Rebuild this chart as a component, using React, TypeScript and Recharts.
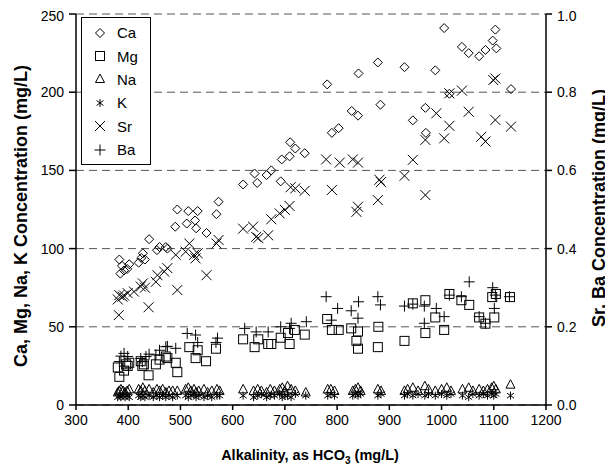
import React from 'react';
import { CartesianGrid, Legend, Scatter, ScatterChart, XAxis, YAxis } from 'recharts';

// alkalinity ticks and concentration ticks
const alkTicks = [300, 400, 500, 600, 700, 800, 900, 1000, 1100, 1200];
const leftTicks = [0, 50, 100, 150, 200, 250];
const rightTicks = [0, 0.2, 0.4, 0.6, 0.8, 1.0];

// [alkalinity, mg/L]
const caData: [number, number][] = [
    [383, 93], [388, 89], [385, 84], [392, 86], [398, 87], [402, 90],
    [420, 91], [425, 94], [428, 97], [432, 93],
    [440, 106], [455, 99], [460, 101], [472, 101], [475, 100],
    [490, 114], [494, 125], [512, 116], [515, 124], [528, 118], [530, 113], [533, 124], [550, 110], [569, 122], [573, 130],
    [620, 141], [642, 148], [647, 142], [665, 147], [674, 150], [692, 143], [694, 157], [709, 159], [710, 168], [720, 164], [738, 161],
    [781, 205], [790, 174], [803, 177], [828, 188], [840, 185], [841, 212], [878, 219], [883, 192],
    [929, 216], [945, 182], [969, 190], [970, 174], [988, 214], [1005, 241], [1015, 199], [1039, 229], [1052, 225],
    [1072, 223], [1084, 227], [1098, 233], [1103, 240], [1105, 228], [1133, 202],
];

const mgData: [number, number][] = [
    [380, 24], [383, 18], [392, 22], [396, 26], [399, 25], [402, 27], [424, 28], [427, 25], [430, 26], [439, 19],
    [453, 26], [460, 29], [472, 31], [475, 30], [491, 27], [494, 21], [517, 37], [529, 30], [533, 35], [549, 28], [568, 36],
    [620, 42], [642, 37], [649, 42], [668, 39], [674, 39], [692, 43], [706, 46], [709, 39], [719, 48], [738, 45],
    [781, 55], [790, 48], [803, 48], [827, 49], [837, 41], [840, 47], [840, 36], [879, 50], [878, 37],
    [929, 41], [945, 65], [969, 67], [969, 46], [988, 56], [1005, 48], [1015, 71], [1038, 67], [1053, 64],
    [1072, 56], [1084, 52], [1097, 69], [1101, 56], [1104, 71], [1131, 69],
];

// Na and K share the sample alkalinities
const minorAlk = [
    380, 383, 386, 390, 394, 398, 402,
    420, 424, 428, 432, 440, 448, 455, 460, 466, 472, 478, 485, 494,
    510, 515, 520, 526, 530, 535, 545, 552, 560, 570, 575,
    620, 640, 648, 655, 665, 672, 680, 690, 695, 700, 705, 712, 720, 740,
    782, 788, 795, 830, 835, 840, 845, 878, 884,
    929, 935, 945, 955, 968, 975, 988, 1000, 1010, 1018, 1040, 1052, 1060, 1072, 1080, 1088, 1096, 1100, 1104, 1132,
];
const naVals = [
    8, 9, 10, 9, 8, 9, 10,
    10, 9, 11, 9, 10, 8, 10, 9, 10, 8, 9, 9, 9,
    10, 11, 9, 10, 8, 9, 10, 8, 9, 10, 9,
    10, 9, 10, 9, 8, 10, 9, 10, 11, 9, 12, 10, 9, 8,
    10, 10, 9, 9, 10, 11, 9, 10, 9,
    9, 10, 11, 9, 12, 10, 9, 10, 11, 9, 10, 11, 9, 10, 9, 10, 11, 12, 10, 13,
];
const kVals = [
    5, 6, 5, 6, 5, 6, 5,
    6, 5, 6, 5, 6, 5, 6, 5, 6, 5, 6, 5, 6,
    6, 5, 6, 7, 5, 6, 5, 6, 5, 6, 6,
    6, 5, 6, 7, 5, 6, 6, 7, 5, 6, 6, 5, 7, 6,
    6, 7, 6, 6, 7, 6, 7, 6, 7,
    6, 7, 6, 7, 6, 7, 6, 7, 6, 7, 6, 5, 7, 6, 7, 6, 7, 6, 7, 6,
];

// Sr and Ba on the right axis
const srData: [number, number][] = [
    [380, 0.27], [382, 0.23], [383, 0.281], [389, 0.277], [392, 0.28], [399, 0.286], [411, 0.29], [424, 0.303],
    [428, 0.311], [432, 0.3], [439, 0.25], [453, 0.315], [456, 0.332], [469, 0.341], [475, 0.35], [491, 0.384],
    [494, 0.294], [510, 0.392], [517, 0.413], [526, 0.384], [529, 0.375], [533, 0.388], [550, 0.332], [569, 0.413], [573, 0.422],
    [620, 0.451], [639, 0.456], [645, 0.43], [649, 0.427], [668, 0.434], [674, 0.475], [690, 0.49], [700, 0.499],
    [709, 0.509], [711, 0.557], [720, 0.554], [738, 0.548],
    [779, 0.628], [790, 0.55], [805, 0.62], [830, 0.628], [837, 0.494], [840, 0.507], [840, 0.62], [878, 0.524], [881, 0.576], [884, 0.57],
    [929, 0.586], [945, 0.627], [969, 0.537], [969, 0.678], [990, 0.746], [1005, 0.682], [1015, 0.714], [1015, 0.797],
    [1039, 0.804], [1052, 0.75], [1076, 0.686], [1084, 0.674], [1099, 0.831], [1103, 0.835], [1103, 0.729], [1133, 0.712],
];

const baData: [number, number][] = [
    [383, 0.111], [386, 0.125], [392, 0.132], [399, 0.124], [424, 0.119], [427, 0.111], [434, 0.124], [440, 0.13],
    [453, 0.128], [460, 0.14], [472, 0.149], [475, 0.15], [491, 0.145], [513, 0.183], [529, 0.179], [533, 0.16], [568, 0.16], [571, 0.171],
    [623, 0.196], [645, 0.187], [668, 0.187], [692, 0.2], [709, 0.196], [712, 0.209], [741, 0.213],
    [779, 0.277], [789, 0.217], [801, 0.247], [827, 0.241], [840, 0.222], [841, 0.264], [878, 0.277], [883, 0.256],
    [929, 0.253], [945, 0.258], [967, 0.253], [967, 0.209], [990, 0.247], [1005, 0.226], [1015, 0.281], [1038, 0.277],
    [1053, 0.315], [1072, 0.226], [1084, 0.209], [1098, 0.3], [1101, 0.247], [1103, 0.281], [1130, 0.277],
];

const toPoints = (rows: [number, number][]) => rows.map(([x, y]) => ({ x, y }));
const naData = minorAlk.map((x, i) => ({ x, y: naVals[i] }));
const kData = minorAlk.map((x, i) => ({ x, y: kVals[i] }));

const FONT = '"Liberation Sans", Arial, sans-serif';

function Marker({ cx, cy, kind }: { cx: number; cy: number; kind: string }) {
    const s = { stroke: '#000', strokeWidth: 1, fill: 'none' };
    if (kind === 'diamond') {
        return <path d={`M${cx},${cy - 4.5}L${cx + 4.5},${cy}L${cx},${cy + 4.5}L${cx - 4.5},${cy}Z`} {...s} />;
    }
    if (kind === 'square') {
        return <rect x={cx - 4.5} y={cy - 4.5} width={9} height={9} {...s} />;
    }
    if (kind === 'triangle') {
        return <path d={`M${cx},${cy - 5}L${cx + 4.5},${cy + 3.5}L${cx - 4.5},${cy + 3.5}Z`} {...s} />;
    }
    if (kind === 'star') {
        return <path d={`M${cx},${cy - 4}V${cy + 4}M${cx - 3.5},${cy - 2.5}L${cx + 3.5},${cy + 2.5}M${cx - 3.5},${cy + 2.5}L${cx + 3.5},${cy - 2.5}`} {...s} />;
    }
    if (kind === 'x') {
        return <path d={`M${cx - 5},${cy - 5}L${cx + 5},${cy + 5}M${cx - 5},${cy + 5}L${cx + 5},${cy - 5}`} {...s} />;
    }
    return <path d={`M${cx - 5.5},${cy}H${cx + 5.5}M${cx},${cy - 5.5}V${cy + 5.5}`} {...s} />;
}

const shapeOf = (kind: string) => (p: any) =>
    p.cx == null || p.cy == null ? <g /> : <Marker cx={p.cx} cy={p.cy} kind={kind} />;

const legendItems = [
    { name: 'Ca', kind: 'diamond' },
    { name: 'Mg', kind: 'square' },
    { name: 'Na', kind: 'triangle' },
    { name: 'K', kind: 'star' },
    { name: 'Sr', kind: 'x' },
    { name: 'Ba', kind: 'plus' },
];

function LegendBox() {
    return (
        <div style={{ border: '1px solid #000', background: '#fff', width: 70, paddingTop: 3, paddingBottom: 3, boxSizing: 'border-box', fontFamily: FONT }}>
            {legendItems.map((it) => (
                <div key={it.name} style={{ display: 'flex', alignItems: 'center', height: 23.4 }}>
                    <svg width={30} height={16} style={{ marginLeft: 3 }}>
                        <Marker cx={15} cy={8} kind={it.kind} />
                    </svg>
                    <span style={{ fontSize: 15, marginLeft: 2, color: '#000' }}>{it.name}</span>
                </div>
            ))}
        </div>
    );
}

export default function App() {
    const tickStyle = { fill: '#000', fontSize: 14, fontFamily: FONT };
    const axisLine = { stroke: '#000', strokeWidth: 1.5 };
    return (
        <ScatterChart width={605} height={464} margin={{ top: 6, right: 8, bottom: 0, left: 8 }}>
            <CartesianGrid yAxisId='left' vertical={false} strokeDasharray='8 5' stroke='#555' />
            <XAxis
                type='number'
                dataKey='x'
                domain={[300, 1200]}
                ticks={alkTicks}
                height={67}
                tick={tickStyle}
                tickSize={5}
                tickMargin={5}
                axisLine={axisLine}
                tickLine={axisLine}
                label={{
                    content: () => (
                        <text x={302} y={452} textAnchor='middle' fontFamily={FONT} fontWeight='bold' fontSize={14.5} fill='#000'>
                            Alkalinity, as HCO<tspan fontSize={10} dy={4}>3</tspan><tspan dy={-4}> (mg/L)</tspan>
                        </text>
                    ),
                }}
            />
            <YAxis
                yAxisId='left'
                type='number'
                dataKey='y'
                domain={[0, 250]}
                ticks={leftTicks}
                width={60}
                tick={tickStyle}
                tickSize={7}
                tickMargin={5}
                axisLine={axisLine}
                tickLine={axisLine}
                label={{
                    content: () => (
                        <text x={19} y={208} transform='rotate(-90 19 208)' textAnchor='middle' fontFamily={FONT} fontWeight='bold' fontSize={18} fill='#000'>
                            Ca, Mg, Na, K Concentration (mg/L)
                        </text>
                    ),
                }}
            />
            <YAxis
                yAxisId='right'
                orientation='right'
                type='number'
                dataKey='y'
                domain={[0, 1]}
                ticks={rightTicks}
                tickFormatter={(v: number) => v.toFixed(1)}
                width={59}
                tick={tickStyle}
                tickSize={6}
                tickMargin={5}
                axisLine={axisLine}
                tickLine={axisLine}
                label={{
                    content: () => (
                        <text x={597} y={200} transform='rotate(-90 597 200)' textAnchor='middle' fontFamily={FONT} fontWeight='bold' fontSize={18} fill='#000'>
                            Sr, Ba Concentration (mg/L)
                        </text>
                    ),
                }}
            />
            <Legend
                layout='vertical'
                align='center'
                verticalAlign='middle'
                wrapperStyle={{ left: 73, top: 9, width: 70 }}
                content={() => <LegendBox />}
            />
            <Scatter name='Ca' yAxisId='left' data={toPoints(caData)} shape={shapeOf('diamond')} isAnimationActive={false} />
            <Scatter name='Mg' yAxisId='left' data={toPoints(mgData)} shape={shapeOf('square')} isAnimationActive={false} />
            <Scatter name='Na' yAxisId='left' data={naData} shape={shapeOf('triangle')} isAnimationActive={false} />
            <Scatter name='K' yAxisId='left' data={kData} shape={shapeOf('star')} isAnimationActive={false} />
            <Scatter name='Sr' yAxisId='right' data={toPoints(srData)} shape={shapeOf('x')} isAnimationActive={false} />
            <Scatter name='Ba' yAxisId='right' data={toPoints(baData)} shape={shapeOf('plus')} isAnimationActive={false} />
        </ScatterChart>
    );
}
